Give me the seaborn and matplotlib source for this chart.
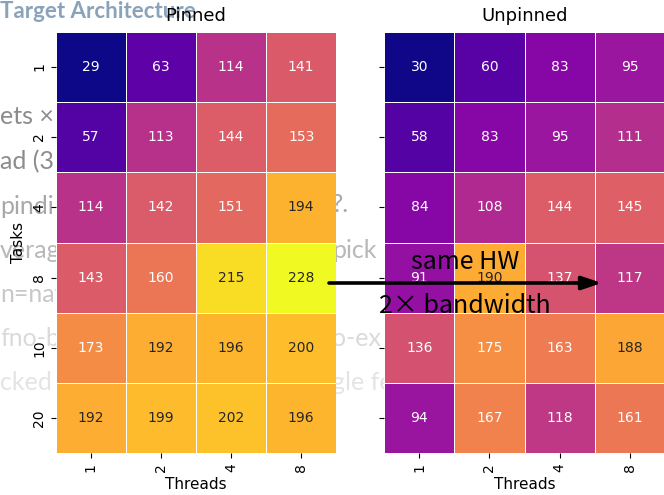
import numpy as np
import pandas as pd
import matplotlib
matplotlib.use("Agg")
import matplotlib.pyplot as plt
import seaborn as sns

tasks = ["1", "2", "4", "8", "10", "20"]
threads = ["1", "2", "4", "8"]
pinned = [
    [29, 63, 114, 141],
    [57, 113, 144, 153],
    [114, 142, 151, 194],
    [143, 160, 215, 228],
    [173, 192, 196, 200],
    [192, 199, 202, 196],
]
unpinned = [
    [30, 60, 83, 95],
    [58, 83, 95, 111],
    [84, 108, 144, 145],
    [91, 190, 137, 117],
    [136, 175, 163, 188],
    [94, 167, 118, 161],
]
titles = ["Pinned", "Unpinned"]
note_top = "same HW"
note_bottom = "2× bandwidth"

# faint slide text showing through behind the figure
ghost_title = "Target Architecture"
ghost_left = ["ets ×", "ad (3", "pindi", "verag", "n=nat", "fno-b", "cked"]
ghost_left_y = [117, 162, 206, 250, 294, 338, 383]
ghost_left_c = ["#8c8c8c", "#8c8c8c", "#a8a8a8", "#b8b8b8", "#c8c8c8", "#dadada", "#e4e4e4"]
ghost_right = ["?.", "pick", "o-ex", "gle fe"]
ghost_right_y = [204, 250, 338, 383]
ghost_right_c = ["#a8a8a8", "#b8b8b8", "#dadada", "#e4e4e4"]

W, H = 664, 495
fig = plt.figure(figsize=(W / 100, H / 100), dpi=100)
fig.patch.set_facecolor("white")


def rect(x0, y0, x1, y1):
    return [x0 / W, 1 - y1 / H, (x1 - x0) / W, (y1 - y0) / H]


# ghost text (behind axes)
fig.text(0 / W, 1 - 12 / H, ghost_title, fontsize=16, fontweight="bold",
         color="#8aa3bb", family="Lato", ha="left", va="center", zorder=-5)
for s, y, c in zip(ghost_left, ghost_left_y, ghost_left_c):
    fig.text(0, 1 - y / H, s, fontsize=18, color=c, family="Lato",
             ha="left", va="center", zorder=-5)
for s, y, c in zip(ghost_right, ghost_right_y, ghost_right_c):
    fig.text(332 / W, 1 - y / H, s, fontsize=18, color=c, family="Lato",
             ha="left", va="center", zorder=-5)

ax1 = fig.add_axes(rect(55.7, 31.7, 336.2, 453.3))
ax2 = fig.add_axes(rect(384.3, 31.7, 664.8, 453.3))

vmin = min(min(r) for r in pinned + unpinned)
vmax = max(max(r) for r in pinned + unpinned)

for ax, data, title in zip([ax1, ax2], [pinned, unpinned], titles):
    df = pd.DataFrame(data, index=tasks, columns=threads)
    sns.heatmap(df, ax=ax, cmap="plasma", vmin=vmin, vmax=vmax, annot=True,
                fmt="d", cbar=False, linewidths=0.7, linecolor="white",
                annot_kws={"fontsize": 10})
    ax.set_title(title, fontsize=13, pad=8)
    ax.set_xlabel("Threads", fontsize=11)
    ax.set_xticklabels(threads, rotation=90, fontsize=10)
    ax.patch.set_alpha(0)

ax1.set_ylabel("Tasks", fontsize=11)
ax1.set_yticklabels(tasks, rotation=90, fontsize=10, va="center")
ax2.set_ylabel("")
ax2.set_yticklabels([])

ax2.annotate("", xy=(602 / W, 1 - 283 / H), xytext=(329 / W, 1 - 283 / H),
             xycoords="figure fraction", textcoords="figure fraction",
             annotation_clip=False,
             arrowprops=dict(arrowstyle="-|>,head_length=0.6,head_width=0.2",
                             color="black", lw=2.6, mutation_scale=20,
                             shrinkA=0, shrinkB=0))
fam = ["Noto Sans CJK JP", "DejaVu Sans"]
fig.text(465 / W, 1 - 262 / H, note_top, fontsize=18, family=fam,
         ha="center", va="center", zorder=10)
fig.text(465 / W, 1 - 306 / H, note_bottom, fontsize=18, family=fam,
         ha="center", va="center", zorder=10)

fig.savefig("out.png", dpi=100)
